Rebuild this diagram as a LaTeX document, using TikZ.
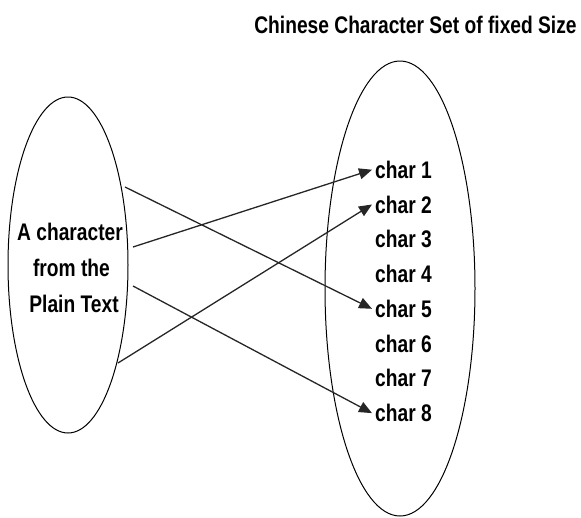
\documentclass[tikz,border=0pt]{standalone}
\usepackage{fontspec}
\setmainfont{Liberation Sans}[FakeStretch=0.86, UprightFont=* Bold, BoldFont=* Bold]
\newfontfamily\diagfont{Liberation Sans Bold}[FakeStretch=0.8]
\usetikzlibrary{arrows.meta,shapes.geometric}
\begin{document}
\begin{tikzpicture}[x=1pt, y=-1pt,
  every node/.style={font=\diagfont\fontsize{24pt}{28pt}\selectfont, text=black},
  setshape/.style={draw, ellipse, line width=1pt, inner sep=0pt},
  label text/.style={anchor=base, inner sep=0pt},
  charlabel/.style={anchor=base west, inner xsep=3pt, inner ysep=0pt},
  link/.style={draw=black!85, line width=1.3pt, -{Triangle[length=13pt, width=11pt]}}]
\useasboundingbox (0,0) rectangle (581,517);
% sets
\node[setshape, minimum width=120pt, minimum height=336pt] (L) at (68,265) {};
\node[setshape, minimum width=150pt, minimum height=455pt] (R) at (400,288.5) {};
% title
\node[label text] (title) at (415.5,33) {Chinese Character Set of fixed Size};
% left text
\node[label text] (t1) at (70,240) {A character};
\node[label text] (t2) at (71.5,276) {from the};
\node[label text] (t3) at (74,312.5) {Plain Text};
% chars
\foreach \i in {1,...,8}
  \node[charlabel] (c\i) at (372,{178.3+34.77*(\i-1)}) {char \i};
% start points
\coordinate (s1) at (125,187);
\coordinate (s2) at (133,247);
\coordinate (s3) at (133,286);
\coordinate (s4) at (118,363);
\draw[link] (s1) -- (c5.west);
\draw[link] (s2) -- (c1.west);
\draw[link] (s3) -- (c8.west);
\draw[link] (s4) -- (c2.west);
\end{tikzpicture}
\end{document}
